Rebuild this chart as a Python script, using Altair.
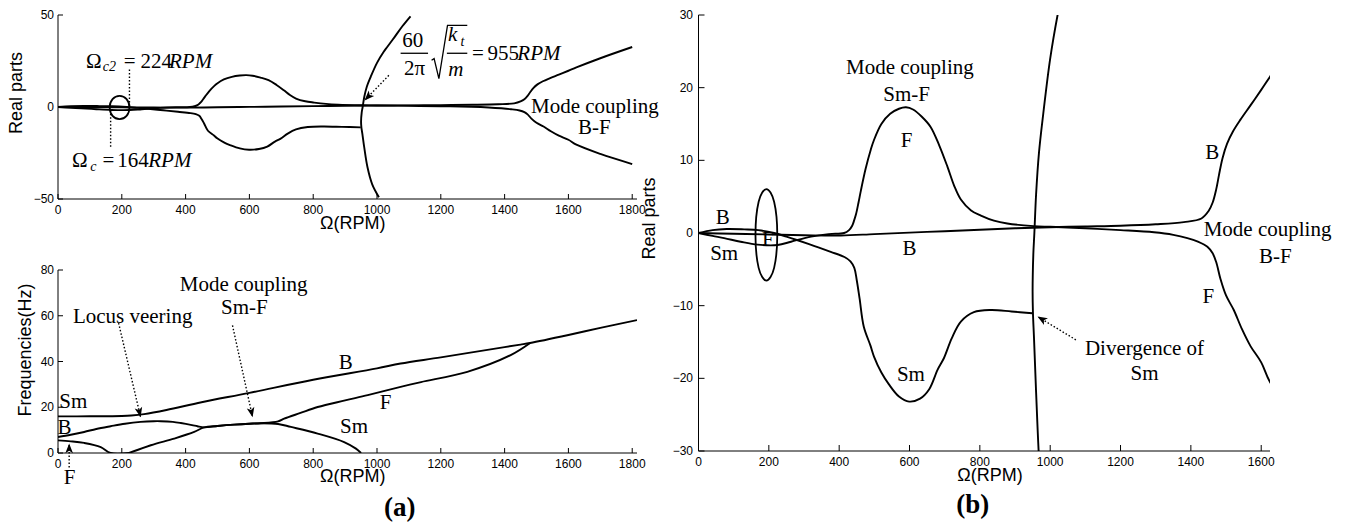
import altair as alt
import pandas as pd

SANS = "Liberation Sans"
SERIF = "Liberation Serif"

# ---------------- Real parts: shared by panel (a)-top and panel (b) ----------------
re_bsm_omega = [0, 40, 80, 130, 170, 215, 250, 282, 330, 376, 415, 432, 443, 450, 458, 470, 489, 499, 520,
                541, 570, 599, 630, 656, 680, 698, 720, 746, 783, 831, 890, 949]
re_bsm_val = [0, 0.4, 0.55, 0.5, 0.4, 0, -0.5, -1.0, -1.8, -2.6, -3.3, -3.9, -4.8, -6.5, -9.0, -12.9, -15.5,
              -17.0, -19.2, -20.8, -22.5, -23.2, -22.8, -21.5, -18.8, -17.2, -14.5, -12.2, -10.9, -10.6, -10.8, -11.05]

re_smf_omega = [0, 40, 73, 120, 168, 225, 263, 320, 370, 414, 428, 437, 443, 448, 455, 462, 475, 490, 499, 520,
                545, 570, 590, 610, 635, 660, 685, 708, 727, 746, 775, 803, 840, 878, 953, 1000, 1100, 1200,
                1295, 1350, 1390, 1420, 1447, 1462, 1472, 1484, 1500, 1522, 1545, 1570, 1600, 1625, 1700, 1800]
re_smf_val = [0, -0.4, -0.7, -1.2, -1.6, -1.65, -1.2, -0.5, -0.15, 0, 0.4, 1.0, 1.8, 2.6, 4.2, 5.9, 8.8, 11.5,
              12.8, 15.0, 16.4, 17.1, 17.3, 17.0, 16.0, 14.6, 12.0, 9.1, 6.5, 4.6, 3.1, 2.4, 1.7, 1.3, 0.95, 0.85,
              0.65, 0.4, 0.1, -0.25, -0.7, -1.2, -1.9, -2.8, -4.0, -6.3, -8.6, -10.6, -13.2, -15.6, -17.8, -20.5,
              -25.5, -31.0]

re_bf_omega = [0, 100, 200, 300, 405, 500, 600, 700, 800, 900, 1000, 1100, 1200, 1300, 1380, 1430, 1450, 1462,
               1472, 1480, 1490, 1503, 1520, 1541, 1570, 1600, 1625, 1700, 1800]
re_bf_val = [0, -0.1, -0.2, -0.3, -0.35, -0.15, 0.05, 0.25, 0.45, 0.65, 0.8, 0.9, 1.0, 1.2, 1.5, 2.0, 3.0, 4.2,
             6.0, 8.0, 10.3, 12.3, 14.0, 15.6, 17.6, 19.7, 21.5, 26.5, 32.6]

re_div_omega = [1006, 985, 970, 960, 954, 951, 950, 952, 955, 960, 968, 980, 1000, 1021, 1032, 1055, 1080, 1105]
re_div_val = [-49, -42, -32.6, -22, -14.5, -11, -8, -3, 0, 5.4, 11, 16.3, 24, 30, 32.6, 38, 44, 49.3]

ellipse_omega = [224, 215, 193, 171, 162, 171, 193, 215]
ellipse_val = [-0.25, 4.3, 6.05, 4.3, -0.25, -4.8, -6.55, -4.8]

# ---------------- Frequencies: panel (a)-bottom ----------------
fq_smb_omega = [0, 100, 200, 230, 270, 340, 450, 600, 800, 1000, 1074, 1200, 1400, 1450, 1480, 1600, 1700, 1815]
fq_smb_val = [16, 16.05, 16.2, 16.4, 17, 18.8, 22.2, 26.3, 32, 37.0, 39.1, 41.8, 46.3, 47.4, 48.1, 51.6, 54.7, 58.1]

fq_bf_omega = [0, 40, 82, 120, 165, 210, 259, 300, 322, 360, 385, 420, 437, 458, 500, 552, 600, 636, 690, 709,
               760, 814, 900, 971, 1074, 1138, 1283, 1419, 1480]
fq_bf_val = [7, 8, 9.2, 10.5, 11.7, 12.8, 13.6, 13.9, 13.9, 13.6, 13.1, 12.2, 11.7, 11.2, 11.8, 12.4, 12.8, 13.0,
             13.8, 15.0, 17.5, 20.1, 23.0, 25.3, 28.9, 31.0, 35.5, 42.8, 48.1]

fq_fsm_omega = [223, 291, 364, 427, 458, 500, 552, 600, 636, 690, 730, 814, 897, 934, 950]
fq_fsm_val = [0, 3.4, 6.3, 9.2, 11.2, 11.8, 12.4, 12.8, 13.0, 12.7, 11.4, 8.5, 4.8, 1.9, 0]

fq_f_omega = [0, 40, 82, 134, 165, 223]
fq_f_val = [5.5, 5.1, 4.4, 2.6, 0, 0]

# ---------------- axis tick values ----------------
ticks_x_a = [0, 200, 400, 600, 800, 1000, 1200, 1400, 1600, 1800]
ticks_y_re_a = [-50, 0, 50]
ticks_y_fq = [0, 20, 40, 60, 80]
ticks_x_b = [0, 200, 400, 600, 800, 1000, 1200, 1400, 1600]
ticks_y_b = [-30, -20, -10, 0, 10, 20, 30]

# ---------------- annotations ----------------
a_top_center = [("Ω", 112, 24.5), ("=", 225, 24.5), ("Ω", 68, -29.4), ("=", 158, -29.4),
                ("60", 1112, 36), ("2π", 1118, 20.5), ("=", 1316, 29),
                ("Mode coupling", 1683, -0.2), ("B-F", 1681, -11.6)]
a_top_left = [("224", 259, 24.5), ("164", 186, -29.4), ("955", 1346, 29)]
a_top_italic_left = [("RPM", 348, 24.5), ("RPM", 283, -29.4), ("RPM", 1440, 29)]
a_top_italic_center = [("k", 1237, 39), ("m", 1247, 20)]
a_top_sub = [("c2", 161, 21.5), ("c", 111, -32.5), ("t", 1268, 35.5)]
a_top_fracbars = [(1074, 1160, 29.2), (1219, 1283, 29.2)]
a_top_radical_omega = [1171, 1179, 1194, 1221, 1283]
a_top_radical_val = [25.4, 26.3, 15.4, 44.4, 44.4]
a_top_dotted = [(224, 0.5, 224, 21), (165, -1.8, 165, -22.6)]
a_top_arrows = [(1037, 17.2, 961, 3.6, 224)]

a_bot_center = [("Sm", 48, 22.3), ("B", 20, 11), ("F", 36, -11), ("Locus veering", 234, 59.4),
                ("Mode coupling", 582, 73.4), ("Sm-F", 584, 63.4), ("B", 902, 39.2), ("F", 1027, 21.8),
                ("Sm", 928, 11.4)]
a_bot_bold = [("(a)", 1071, -24.2)]
a_bot_arrows = [(190, 56.8, 259, 15.6, 167), (547, 55.8, 610, 15.6, 168), (35, -6.3, 35, 4.2, 0)]

b_center = [("B", 69, 2.1), ("Sm", 73, -2.9), ("F", 197, -0.96), ("Mode coupling", 601, 22.7),
            ("Sm-F", 592, 19), ("F", 592, 12.6), ("B", 600, -2.2), ("B", 1461, 11),
            ("Mode coupling", 1618, 0.4), ("B-F", 1640, -3.3), ("F", 1450, -8.8), ("Sm", 604, -19.5),
            ("Divergence of", 1268, -15.9), ("Sm", 1268, -19.4)]
b_bold = [("(b)", 780, -37.4)]
b_arrows = [(1073, -14.7, 964, -11.5, 301)]

ARROW = "M0,0 L0.7,1.8 L0,1.35 L-0.7,1.8 Z"


def curves_df(items):
    rows = []
    for name, xs, ys in items:
        for i, (x, y) in enumerate(zip(xs, ys)):
            rows.append({"curve": name, "i": i, "x": x, "y": y})
    return pd.DataFrame(rows)


def X(sx, field="x"):
    return alt.X(f"{field}:Q", scale=sx, axis=None)


def Y(sy, field="y"):
    return alt.Y(f"{field}:Q", scale=sy, axis=None)


def fmt(v):
    return str(v).replace("-", "\u2212")


def axes_layers(xv, yv, sx, sy, w, h, ytitle, xt_pos, yt_pos, ypad=4, L=5):
    """Manual MATLAB-style axes: left & bottom lines, inward ticks, labels, titles."""
    dom = pd.DataFrame({"k": [0]})
    xline = alt.Chart(dom).mark_rule(color="black", strokeWidth=1).encode(
        x=alt.value(0), x2=alt.value(w), y=alt.value(h))
    yline = alt.Chart(dom).mark_rule(color="black", strokeWidth=1).encode(
        x=alt.value(0), y=alt.value(0), y2=alt.value(h))
    xdf = pd.DataFrame({"x": xv, "label": [fmt(v) for v in xv]})
    ydf = pd.DataFrame({"y": yv, "label": [fmt(v) for v in yv]})
    xt = alt.Chart(xdf).mark_rule(color="black", strokeWidth=1).encode(
        x=X(sx), y=alt.value(h), y2=alt.value(h - L))
    yt = alt.Chart(ydf).mark_rule(color="black", strokeWidth=1).encode(
        y=Y(sy), x=alt.value(0), x2=alt.value(L))
    xl = alt.Chart(xdf).mark_text(font=SANS, fontSize=12, color="black", align="center",
                                  baseline="middle").encode(x=X(sx), y=alt.value(h + 10.5), text="label:N")
    yl = alt.Chart(ydf).mark_text(font=SANS, fontSize=12, color="black", align="right",
                                  baseline="middle").encode(y=Y(sy), x=alt.value(-ypad), text="label:N")
    xtitle = alt.Chart(dom).mark_text(text="Ω(RPM)", font=SANS, fontSize=18, color="black",
                                      align="center", baseline="middle").encode(
        x=alt.value(xt_pos[0]), y=alt.value(h + xt_pos[1]))
    ytitle_m = alt.Chart(dom).mark_text(text=ytitle, font=SANS, fontSize=18, color="black", angle=270,
                                        align="center", baseline="middle").encode(
        x=alt.value(yt_pos[0]), y=alt.value(yt_pos[1]))
    return [xline, yline, xt, yt, xl, yl, xtitle, ytitle_m]


def text_layer(rows, sx, sy, size=21, style="normal", weight="normal", align="center"):
    df = pd.DataFrame(rows, columns=["label", "x", "y"])
    return alt.Chart(df).mark_text(font=SERIF, fontSize=size, fontStyle=style, fontWeight=weight,
                                   align=align, baseline="middle", color="black").encode(
        x=X(sx), y=Y(sy), text="label:N")


def arrow_layers(rows, sx, sy):
    df = pd.DataFrame(rows, columns=["x", "y", "x2", "y2", "angle"])
    line = alt.Chart(df).mark_rule(color="black", strokeWidth=1.4, strokeDash=[1.5, 2]).encode(
        x=X(sx), y=Y(sy), x2="x2:Q", y2="y2:Q")
    head = alt.Chart(df).mark_point(shape=ARROW, filled=True, size=120, color="black", opacity=1,
                                    strokeWidth=0).encode(
        x=X(sx, "x2"), y=Y(sy, "y2"), angle=alt.Angle("angle:Q", scale=None))
    return [line, head]


def dotted_layer(rows, sx, sy):
    df = pd.DataFrame(rows, columns=["x", "y", "x2", "y2"])
    return alt.Chart(df).mark_rule(color="black", strokeWidth=1.4, strokeDash=[1.5, 2]).encode(
        x=X(sx), y=Y(sy), x2="x2:Q", y2="y2:Q")


def ellipse_layer(sx, sy):
    df = curves_df([("ellipse", ellipse_omega, ellipse_val)])
    return alt.Chart(df).mark_line(color="black", strokeWidth=1.8, interpolate="cardinal-closed").encode(
        x=X(sx), y=Y(sy), order="i:Q")


def curve_layer(df, sx, sy):
    return alt.Chart(df).mark_line(color="black", strokeWidth=1.9, clip=True,
                                   interpolate="catmull-rom").encode(
        x=X(sx), y=Y(sy), detail="curve:N", order="i:Q")


re_df = curves_df([("bsm", re_bsm_omega, re_bsm_val), ("smf", re_smf_omega, re_smf_val),
                   ("bf", re_bf_omega, re_bf_val), ("div", re_div_omega, re_div_val)])
fq_df = curves_df([("smb", fq_smb_omega, fq_smb_val), ("bf", fq_bf_omega, fq_bf_val),
                   ("fsm", fq_fsm_omega, fq_fsm_val), ("f", fq_f_omega, fq_f_val)])

# ---------------- panel (a) top ----------------
WA, HA = 579, 184
sxa = alt.Scale(domain=[0, 1815], nice=False, zero=False)
sya = alt.Scale(domain=[-50, 50], nice=False, zero=False)
frac = pd.DataFrame(a_top_fracbars, columns=["x", "x2", "y"])
a_frac = alt.Chart(frac).mark_rule(color="black", strokeWidth=1.3).encode(x=X(sxa), x2="x2:Q", y=Y(sya))
a_rad = alt.Chart(curves_df([("rad", a_top_radical_omega, a_top_radical_val)])).mark_line(
    color="black", strokeWidth=1.3).encode(x=X(sxa), y=Y(sya), order="i:Q")
panel_a_top = alt.layer(
    curve_layer(re_df, sxa, sya), ellipse_layer(sxa, sya),
    *axes_layers(ticks_x_a, ticks_y_re_a, sxa, sya, WA, HA, "Real parts", (294.7, 25), (-40.6, 78)),
    dotted_layer(a_top_dotted, sxa, sya), *arrow_layers(a_top_arrows, sxa, sya), a_frac, a_rad,
    text_layer(a_top_center, sxa, sya), text_layer(a_top_left, sxa, sya, align="left"),
    text_layer(a_top_italic_left, sxa, sya, style="italic", align="left"),
    text_layer(a_top_italic_center, sxa, sya, style="italic"),
    text_layer(a_top_sub, sxa, sya, size=14, style="italic"),
).properties(width=WA, height=HA)

# ---------------- panel (a) bottom ----------------
HB = 183
syb = alt.Scale(domain=[0, 80], nice=False, zero=False)
panel_a_bot = alt.layer(
    curve_layer(fq_df, sxa, syb),
    *axes_layers(ticks_x_a, ticks_y_fq, sxa, syb, WA, HB, "Frequencies(Hz)", (294.7, 24), (-32.3, 80)),
    *arrow_layers(a_bot_arrows, sxa, syb),
    text_layer(a_bot_center, sxa, syb), text_layer(a_bot_bold, sxa, syb, size=27, weight="bold"),
).properties(width=WA, height=HB)

# ---------------- panel (b) ----------------
WC, HC = 571.5, 436
sxc = alt.Scale(domain=[0, 1625], nice=False, zero=False)
syc = alt.Scale(domain=[-30, 30], nice=False, zero=False)
panel_b = alt.layer(
    curve_layer(re_df, sxc, syc), ellipse_layer(sxc, syc),
    *axes_layers(ticks_x_b, ticks_y_b, sxc, syc, WC, HC, "Real parts", (291.5, 25), (-48.5, 203.5),
                 ypad=5.5, L=6),
    *arrow_layers(b_arrows, sxc, syc), text_layer(b_center, sxc, syc),
    text_layer(b_bold, sxc, syc, size=27, weight="bold"),
).properties(width=WC, height=HC)

left = alt.vconcat(panel_a_top, panel_a_bot, spacing=71, bounds="flush")
# with flush bounds the nested column counts as zero width, so the spacing spans the left plot width too
chart = alt.hconcat(left, panel_b, spacing=WA + 61.5, bounds="flush").properties(
    padding={"left": 0, "top": 1, "right": 0, "bottom": 0}, background="white").configure_view(stroke=None)

chart.save("out.html", embed_options={"renderer": "svg", "actions": False})
